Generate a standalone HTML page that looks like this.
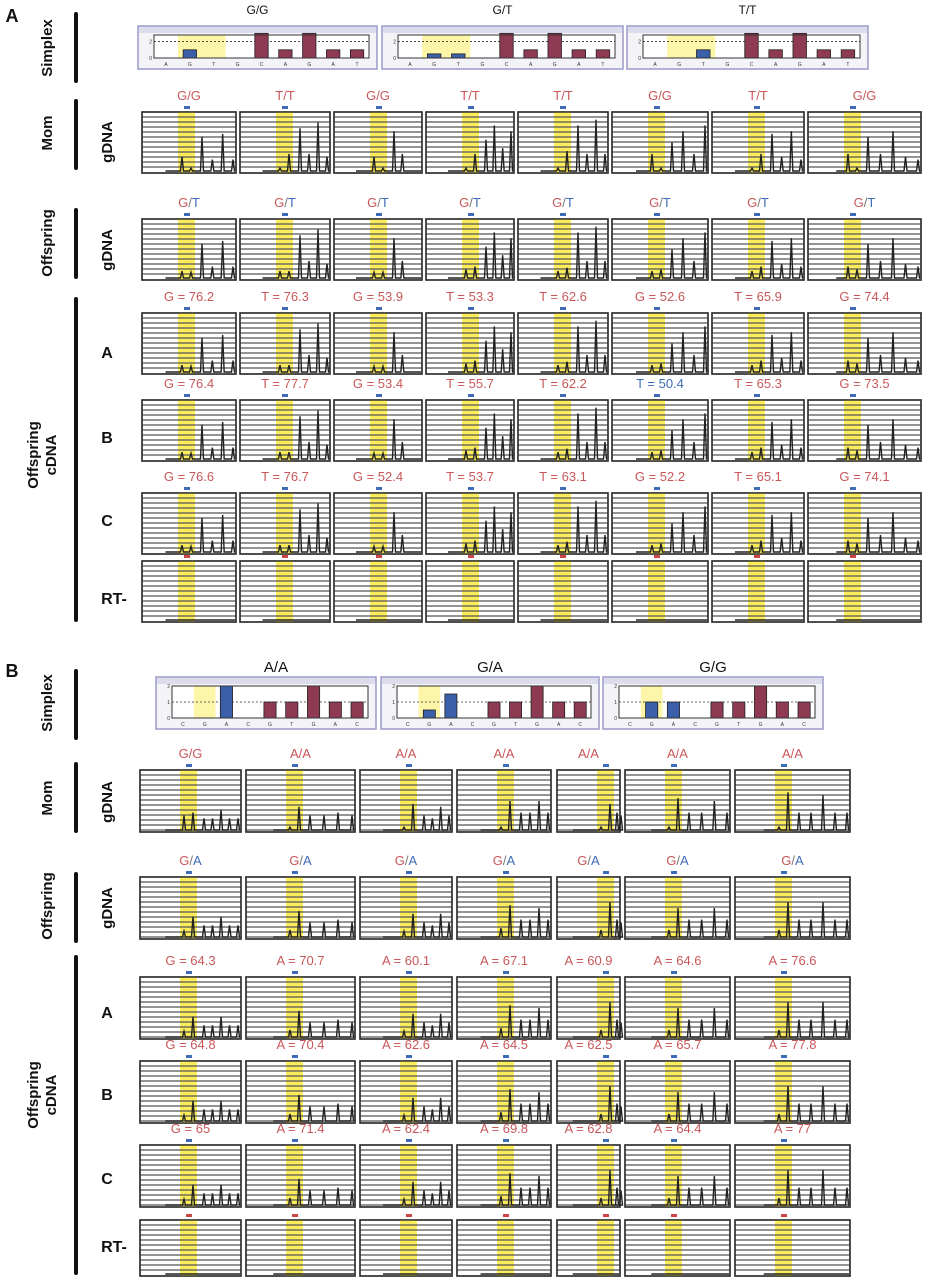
<!DOCTYPE html>
<html><head><meta charset="utf-8">
<style>
html,body{margin:0;padding:0;background:#fff;}
svg{display:block;font-family:"Liberation Sans",sans-serif;}
</style></head>
<body>
<svg id="fig" width="927" height="1280" viewBox="0 0 927 1280" xmlns="http://www.w3.org/2000/svg"></svg>
<script>
// ---------- DATA ----------
const simplexLettersA = ["A","G","T","G","C","A","G","A","T"];
const simplexTitlesA = ["G/G","G/T","T/T"];
const simplexValuesA = [
  [0,1,0,0,3,1,3,1,1],
  [0,0.5,0.5,0,3,1,3,1,1],
  [0,0,1,0,3,1,3,1,1]
];
const simplexLettersB = ["C","G","A","C","G","T","G","A","C"];
const simplexTitlesB = ["A/A","G/A","G/G"];
const simplexValuesB = [
  [0,0,2,0,1,1,2,1,1],
  [0,0.5,1.5,0,1,1,2,1,1],
  [0,1,1,0,1,1,2,1,1]
];
const momTitlesA = ["G/G","T/T","G/G","T/T","T/T","G/G","T/T","G/G"];
const offTitlesA = ["G/T","G/T","G/T","G/T","G/T","G/T","G/T","G/T"];
const cdnaA_A = ["G = 76.2","T = 76.3","G = 53.9","T = 53.3","T = 62.6","G = 52.6","T = 65.9","G = 74.4"];
const cdnaA_B = ["G = 76.4","T = 77.7","G = 53.4","T = 55.7","T = 62.2","T = 50.4","T = 65.3","G = 73.5"];
const cdnaA_C = ["G = 76.6","T = 76.7","G = 52.4","T = 53.7","T = 63.1","G = 52.2","T = 65.1","G = 74.1"];
const momTitlesB = ["G/G","A/A","A/A","A/A","A/A","A/A","A/A"];
const offTitlesB = ["G/A","G/A","G/A","G/A","G/A","G/A","G/A"];
const cdnaB_A = ["G = 64.3","A = 70.7","A = 60.1","A = 67.1","A = 60.9","A = 64.6","A = 76.6"];
const cdnaB_B = ["G = 64.8","A = 70.4","A = 62.6","A = 64.5","A = 62.5","A = 65.7","A = 77.8"];
const cdnaB_C = ["G = 65","A = 71.4","A = 62.4","A = 69.8","A = 62.8","A = 64.4","A = 77"];
// SNP peak heights (fraction of panel) [first base, second base]
const snpMomA = [[0.25,0.05],[0.05,0.3],[0.25,0.05],[0.05,0.3],[0.05,0.35],[0.3,0.05],[0.05,0.3],[0.3,0.05]];
const snpOffA = [[0.12,0.1],[0.12,0.12],[0.1,0.1],[0.15,0.2],[0.12,0.18],[0.12,0.15],[0.12,0.2],[0.2,0.15]];
const downA = [[0.6,0.2,0.65,0.2],[0.75,0.3,0.85,0.25],[0.7,0.3,0.0,0.0],[0.55,0.8,0.4,0.7],[0.8,0.3,0.9,0.3],[0.5,0.7,0.3,0.8],[0.65,0.25,0.7,0.2],[0.6,0.3,0.7,0.25,0.2]];
const snpMomB = [[0.25,0.3],[0.05,0.4],[0.05,0.45],[0.05,0.5],[0.05,0.45],[0.05,0.55],[0.05,0.65]];
const snpOffB = [[0.1,0.35],[0.12,0.45],[0.1,0.4],[0.15,0.55],[0.12,0.6],[0.12,0.5],[0.12,0.6]];
const downB = [[0.2,0.2,0.35,0.2,0.2],[0.25,0.25,0.3,0.25],[0.25,0.2,0.4,0.25],[0.3,0.3,0.5,0.3],[0.25,0.3],[0.3,0.3,0.5,0.3],[0.3,0.3,0.6,0.3,0.3]];

// ---------- LAYOUT ----------
const colXA = [142,240,334,426,518,612,712,808];
const colWA = [94,90,88,88,90,96,92,113];
const colXB = [140,246,360,457,557,625,735];
const colWB = [101,109,92,94,63,105,115];
const RED="#c9575a", BLUE="#3f6cb8";
const svg=document.getElementById('fig');
const NS="http://www.w3.org/2000/svg";
function mk(tag,attrs,parent){const e=document.createElementNS(NS,tag);for(const k in attrs)e.setAttribute(k,attrs[k]);(parent||svg).appendChild(e);return e;}

function txt(x,y,s,opt,name){
  const t=mk('text',Object.assign({x:x,y:y,'text-anchor':'middle'},opt||{}));
  t.textContent=s;
  
  
  return t;
}
function vlabel(x,y,s,name,size){
  const t=mk('text',{x:0,y:0,transform:`translate(${x},${y}) rotate(-90)`,'text-anchor':'middle','font-weight':'bold','font-size':size||15,fill:'#111'});
  t.textContent=s;
  
  
  return t;
}
function bar(x,y1,y2,name){
  const r=mk('rect',{x:x-2,y:y1,width:4,height:y2-y1,rx:2,fill:'#111'});
  
  
}
function genoTitle(cx,y,s,name,mixed){
  const t=mk('text',{x:cx,y:y,'text-anchor':'middle','font-size':13,fill:RED});
  
  
  if(mixed){
    const p=s.split('/');
    const a=mk('tspan',{fill:RED},t);a.textContent=p[0];
    const b=mk('tspan',{fill:'#777'},t);b.textContent='/';
    const c=mk('tspan',{fill:BLUE},t);c.textContent=p[1];
  } else {
    t.textContent=s;
    if(s.indexOf('50.4')>=0) t.setAttribute('fill',BLUE);
  }
}
function panel(x,y,w,h,yOff,snp,down,name,rt){
  const g=mk('g',{});
  
  
  mk('rect',{x:x,y:y,width:w,height:h,fill:'#fff',stroke:'#444','stroke-width':1.5},g);
  mk('rect',{x:x+yOff,y:y,width:17,height:h,fill:'#fbec5c'},g);
  for(let yy=y+5;yy<y+h-1;yy+=5) mk('line',{x1:x,x2:x+w,y1:yy,y2:yy,stroke:'#555','stroke-width':1.3},g);
  mk('rect',{x:x,y:y,width:w,height:h,fill:'none',stroke:'#333','stroke-width':1.5},g);
  mk('rect',{x:x+yOff+6,y:y-6,width:6,height:3,fill:rt?'#c44':BLUE},g);
  const base=y+h-2;
  let pts=[[x+w*0.25,base]];
  if(!rt){
    const sp=[[x+yOff+4,snp[0]],[x+yOff+13,snp[1]]];
    const start=x+yOff+24, end=x+w-3;
    const n=down.length;
    down.forEach((v,i)=>sp.push([start+(end-start)*(n>1?i/(n-1):0.5),v]));
    sp.forEach(p=>{if(p[1]>0.01){pts.push([p[0]-1.5,base],[p[0],base-p[1]*(h-4)],[p[0]+1.5,base]);}});
  }
  pts.push([x+w-1,base]);
  mk('polyline',{points:pts.map(p=>p.join(',')).join(' '),fill:'none',stroke:'#222','stroke-width':1.4},g);
}
function simplex(x,y,w,h,letters,vals,ymax,dotV,ticks,hlIdx,name){
  const g=mk('g',{});
  
  
  mk('rect',{x:x,y:y,width:w,height:h,fill:'#f4f4f8',stroke:'#9a9ac8','stroke-width':1.5},g);
  mk('rect',{x:x+1,y:y+1,width:w-2,height:6,fill:'#dcdcec'},g);
  const cx=x+16,cw=w-24,cy=y+9,ch=h-20;
  mk('rect',{x:cx,y:cy,width:cw,height:ch,fill:'#fff'},g);
  const bw=cw/letters.length;
  const ys=v=>cy+ch-v/ymax*ch;
  mk('rect',{x:cx+bw*hlIdx[0],y:cy,width:bw*(hlIdx[1]-hlIdx[0]),height:ch,fill:'#fdf6a8'},g);
  mk('line',{x1:cx,x2:cx+cw,y1:ys(dotV),y2:ys(dotV),stroke:'#333','stroke-dasharray':'2,2','stroke-width':0.8},g);
  vals.forEach((v,i)=>{
    if(v<=0)return;
    const blue=(i>=hlIdx[0]&&i<hlIdx[1]+ (hlIdx[2]||0));
    const r=mk('rect',{x:cx+bw*i+bw*0.22,y:ys(v),width:bw*0.56,height:v/ymax*ch,fill:blue?'#3b5fa8':'#8e3a52',stroke:'#222','stroke-width':0.8},g);
    
    
  });
  letters.forEach((l,i)=>{const t=mk('text',{x:cx+bw*(i+0.5),y:cy+ch+8,'text-anchor':'middle','font-size':5,fill:'#333'},g);t.textContent=l;});
  ticks.forEach(tv=>{const t=mk('text',{x:cx-2,y:ys(tv)+2,'text-anchor':'end','font-size':5,fill:'#333'},g);t.textContent=tv;});
  mk('rect',{x:cx,y:cy,width:cw,height:ch,fill:'none',stroke:'#333','stroke-width':1},g);
}

// ---------- SECTION A ----------
txt(12,22,"A",{'font-weight':'bold','font-size':18,fill:'#111'},'panel-a-label');
bar(76,12,83,'bracket-simplex-a');bar(76,99,170,'bracket-mom-a');bar(76,208,279,'bracket-offspring-a');bar(76,297,622,'bracket-cdna-a');
vlabel(52,48,"Simplex",'label-simplex-a');vlabel(52,133,"Mom",'label-mom-a');vlabel(52,243,"Offspring",'label-offspring-a');
vlabel(38,455,"Offspring",'label-offspring-cdna-a');vlabel(56,455,"cDNA",'label-cdna-a');
vlabel(112,142,"gDNA",'label-gdna-mom-a');vlabel(112,250,"gDNA",'label-gdna-off-a');
[["A",352],["B",437],["C",520],["RT-",598]].forEach(r=>txt(r[0]=="RT-"?114:107,r[1]+6,r[0],{'font-weight':'bold','font-size':16,fill:'#111'},'row-label-'+r[0].toLowerCase()));
const sbA=[[138,239],[382,241],[627,241]];
simplexTitlesA.forEach((t,i)=>{
  txt(sbA[i][0]+sbA[i][1]/2,14,t,{'font-size':12,fill:'#111'},'simplex-title-a');
  simplex(sbA[i][0],26,sbA[i][1],43,simplexLettersA,simplexValuesA[i],2.8,2,[0,2],[1,3],'simplex-chart-a');
});
const rowsA=[[112,"mom",momTitlesA,snpMomA,false],[219,"off",offTitlesA,snpOffA,true],[313,"ca",cdnaA_A,snpOffA,false],[400,"cb",cdnaA_B,snpOffA,false],[493,"cc",cdnaA_C,snpOffA,false]];
rowsA.forEach(r=>{
  colXA.forEach((x,i)=>{
    genoTitle(x+colWA[i]/2,r[0]-12,r[2][i],'genotype-title-'+r[1],r[4]);
    panel(x,r[0],colWA[i],61,36,r[3][i],downA[i],'trace-'+r[1]+'-a',false);
  });
});
colXA.forEach((x,i)=>panel(x,561,colWA[i],61,36,[0,0],[],'trace-rt-a',true));

// ---------- SECTION B ----------
txt(12,677,"B",{'font-weight':'bold','font-size':18,fill:'#111'},'panel-b-label');
bar(76,669,740,'bracket-simplex-b');bar(76,762,833,'bracket-mom-b');bar(76,872,943,'bracket-offspring-b');bar(76,955,1275,'bracket-cdna-b');
vlabel(52,703,"Simplex",'label-simplex-b');vlabel(52,798,"Mom",'label-mom-b');vlabel(52,906,"Offspring",'label-offspring-b');
vlabel(38,1095,"Offspring",'label-offspring-cdna-b');vlabel(56,1095,"cDNA",'label-cdna-b');
vlabel(112,802,"gDNA",'label-gdna-mom-b');vlabel(112,908,"gDNA",'label-gdna-off-b');
[["A",1012],["B",1094],["C",1178],["RT-",1246]].forEach(r=>txt(r[0]=="RT-"?114:107,r[1]+6,r[0],{'font-weight':'bold','font-size':16,fill:'#111'},'row-label-b-'+r[0].toLowerCase()));
const sbB=[[156,220],[381,218],[603,220]];
simplexTitlesB.forEach((t,i)=>{
  txt(sbB[i][0]+sbB[i][1]/2+ (i==0?10:0),672,t,{'font-size':15,fill:'#111'},'simplex-title-b');
  simplex(sbB[i][0],677,sbB[i][1],52,simplexLettersB,simplexValuesB[i],2,1,["0.0","1.0","2.0"].map(Number),[1,2,1],'simplex-chart-b');
});
const rowsB=[[770,"mom",momTitlesB,snpMomB,false],[877,"off",offTitlesB,snpOffB,true],[977,"ca",cdnaB_A,snpOffB,false],[1061,"cb",cdnaB_B,snpOffB,false],[1145,"cc",cdnaB_C,snpOffB,false]];
rowsB.forEach(r=>{
  colXB.forEach((x,i)=>{
    genoTitle(x+colWB[i]/2,r[0]-12,r[2][i],'genotype-title-b-'+r[1],r[4]);
    panel(x,r[0],colWB[i],62,40,r[3][i],downB[i],'trace-'+r[1]+'-b',false);
  });
});
colXB.forEach((x,i)=>panel(x,1220,colWB[i],56,40,[0,0],[],'trace-rt-b',true));
</script>
</body></html>
